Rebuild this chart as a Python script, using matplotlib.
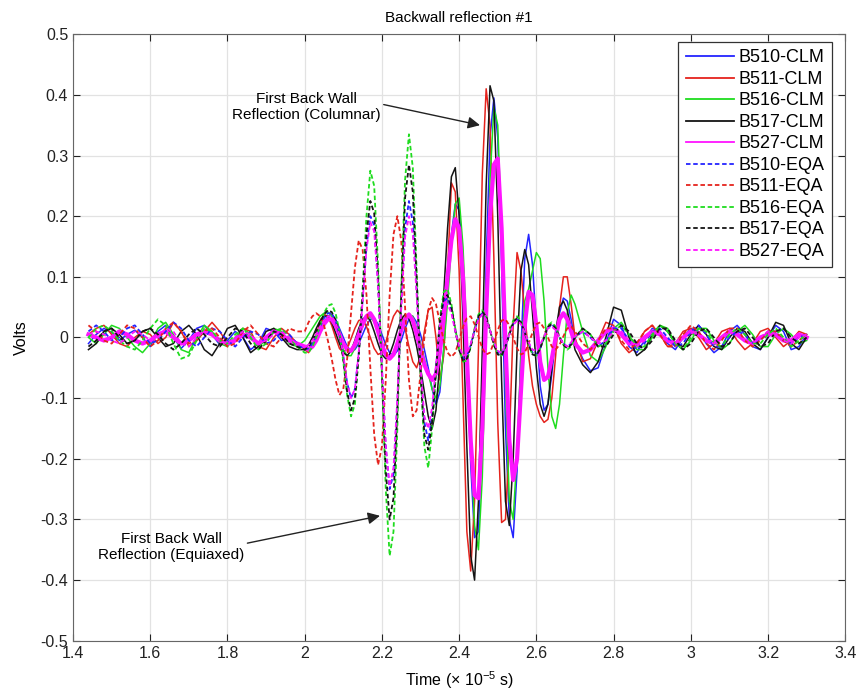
import numpy as np
import matplotlib
matplotlib.use("Agg")
import matplotlib.pyplot as plt
from matplotlib.ticker import FuncFormatter, MultipleLocator

plt.rcParams['font.family'] = ['Liberation Sans Narrow', 'Liberation Sans', 'DejaVu Sans']
plt.rcParams['mathtext.default'] = 'regular'

# sample times (x 1e-5 s): coarse before/after the echo, fine through it
t = np.concatenate([np.arange(1.44, 1.99, 0.02),
                    np.arange(2.00, 2.705, 0.01),
                    np.arange(2.72, 3.305, 0.02)])

# received signals in mV, columnar specimens
b510_clm = [-10, 5, 15, 8, -5, 5, 12, 0, -15, 10, 20, 0, -18, -5, 15, 20, 5, -12, -5, 10, 0, -20, -10, 15, 10, -5, 0, -10,
            -15, -18, -15, -5, 10, 25, 35, 38, 30, 15,
            0, -15, -22, -20, -10, 5, 20, 30, 32, 22,
            5, -12, -25, -30, -22, -5, 15, 30, 35, 25,
            5, -20, -50, -85, -110, -90, -20, 80, 170, 220,
            210, 120, -40, -210, -330, -320, -150, 120, 330, 395,
            330, 120, -150, -300, -330, -220, -20, 130, 170, 120,
            20, -80, -120, -110, -60, 0, 40, 65, 60, 30,
            -5,
            -35, -55, -50, -10, 30, 20, -15, -25, -5, 15, 10, -10, -20, 0, 15, 10, -10, -25, -15, 10,
            20, 5, -15, -20, 0, 20, 10, -20, -15, 5]
b511_clm = [5, 15, 20, 5, -10, -15, 0, 10, 5, -10, 0, 25, 10, -15, -5, 10, 25, 10, -10, -5, 15, 10, -15, -20, 0, 15, 5, -10,
            -20, -25, -15, 5, 25, 38, 35, 20, 0, -18,
            -25, -18, -2, 15, 28, 30, 18, 0, -18, -28,
            -25, -8, 15, 35, 45, 38, 15, -15, -40, -50,
            -30, 10, 45, 50, 0, -70, -30, 110, 255, 240,
            110, -100, -320, -385, -270, -20, 270, 410, 350, 130,
            -140, -305, -300, -170, 20, 140, 110, 40, -30, -80,
            -110, -130, -140, -135, -100, -30, 50, 100, 100, 55,
            0,
            -40, -35, -5, 25, 20, -10, -25, -15, 10, 20, 5, -15, -10, 10, 15, 0, -20, -10, 10, 15,
            -5, -20, -10, 10, 15, 0, -15, -5, 10, 5]
b516_clm = [0, -10, 5, 20, 15, 0, -15, -25, -10, 15, 25, 5, -20, -25, 0, 20, 10, -10, -15, 0, 15, 5, -15, -5, 15, 10, -10, -15,
            -5, 5, 15, 25, 35, 40, 42, 35, 20, 0,
            -20, -30, -30, -18, 0, 18, 30, 35, 25, 8,
            -10, -25, -35, -30, -12, 10, 28, 38, 35, 15,
            -10, -35, -60, -85, -100, -80, -20, 60, 150, 220,
            230, 150, 0, -170, -310, -350, -230, 20, 260, 380,
            350, 170, -80, -270, -300, -190, -30, 60, 80, 110,
            140, 130, 60, -50, -130, -150, -110, -30, 40, 70,
            55,
            10, -30, -40, -15, 15, 25, 5, -20, -20, 0, 20, 15, -10, -20, -5, 15, 15, -5, -20, -10,
            10, 20, 5, -15, -15, 5, 15, 5, -10, -5]
b517_clm = [-20, -10, 10, 15, 5, -10, -5, 10, 15, 0, -15, -10, 10, 20, 5, -20, -30, -10, 15, 20, 0, -25, -15, 10, 15, 0, -15, -20,
            -20, -12, 0, 15, 28, 35, 35, 25, 8, -10,
            -25, -30, -22, -5, 15, 30, 35, 28, 10, -10,
            -28, -35, -28, -10, 12, 30, 38, 32, 12, -15,
            -50, -90, -130, -150, -120, -40, 70, 180, 265, 280,
            200, 30, -180, -360, -400, -270, -20, 250, 415, 390,
            200, -70, -270, -310, -200, -20, 110, 145, 120, 40,
            -50, -110, -130, -110, -50, 10, 50, 60, 45, 15,
            -20,
            -45, -58, -40, 0, 50, 45, 0, -30, -20, 5, 20, 10, -10, -15, 5, 20, 5, -15, -20, 0,
            15, 10, -10, -20, 0, 25, 20, -10, -20, 0]
b527_clm = [5, 0, -5, 0, 10, 5, -5, -10, -5, 5, 10, 0, -10, -5, 5, 10, 5, -5, -10, -5, 5, 0, -10, 0, 10, 5, -5, -10,
            -15, -20, -15, -5, 10, 22, 30, 30, 20, 5,
            -10, -20, -22, -12, 5, 22, 35, 40, 30, 10,
            -12, -28, -35, -28, -10, 12, 30, 38, 28, 5,
            -20, -45, -60, -70, -60, -25, 30, 100, 160, 195,
            180, 100, -30, -170, -260, -265, -150, 40, 200, 285,
            295, 180, -10, -170, -235, -200, -90, 20, 75, 70,
            20, -40, -70, -65, -35, 0, 30, 40, 30, 10,
            -10,
            -25, -20, -5, 10, 15, 5, -10, -10, 0, 10, 5, -5, -10, 0, 10, 5, -5, -10, 0, 10,
            5, -5, -10, 0, 5, 5, -5, -5, 5, 0]

# equiaxed specimens
b510_eqa = [10, 20, 10, -5, 0, 15, 20, 5, -10, -5, 10, 25, 15, -5, -15, 0, 15, 10, -5, -15, 0, 10, 5, -10, -5, 10, 5, -10,
            -20, -18, -10, 2, 18, 32, 40, 40, 28, 5,
            -30, -75, -100, -85, -25, 60, 150, 200, 185, 90,
            -50, -180, -250, -225, -110, 50, 180, 225, 190, 80,
            -50, -140, -170, -130, -50, 25, 60, 65, 45, 12,
            -18, -35, -32, -12, 12, 32, 40, 32, 12, -10,
            -25, -28, -15, 5, 22, 30, 25, 8, -10, -25,
            -28, -18, 0, 15, 22, 15, 0, -10, -15, -10,
            0,
            10, 0, -15, -5, 15, 15, -5, -20, -10, 10, 15, 0, -15, -10, 10, 20, 5, -15, -15, 0,
            10, 5, -10, -5, 10, 10, -5, -10, 0, 5]
b511_eqa = [20, 10, -5, -10, 5, 20, 15, 0, -15, -5, 15, 25, 10, -10, -5, 10, 15, 0, -15, -10, 10, 20, 5, -10, -15, 0, 15, 10,
            10, 25, 35, 40, 35, 20, -5, -35, -70, -95,
            -85, -35, 40, 115, 160, 145, 70, -50, -160, -210,
            -180, -70, 70, 170, 200, 160, 50, -70, -130, -120,
            -60, 0, 45, 65, 55, 25, -5, -25, -32, -25,
            -5, 18, 32, 35, 22, 2, -18, -28, -25, -8,
            12, 28, 30, 20, 0, -18, -28, -25, -10, 8,
            22, 25, 15, 0, -15, -20, -12, 2, 15, 18,
            10,
            -10, -20, -5, 15, 15, -5, -20, -10, 10, 20, 5, -15, -15, 5, 20, 10, -10, -20, -5, 15,
            15, -5, -15, -5, 10, 10, -5, -15, -5, 5]
b516_eqa = [0, 15, 20, 10, -5, -15, -20, -5, 15, 30, 20, -10, -35, -30, -5, 15, 10, -5, -10, 5, 15, 0, -20, -10, 10, 15, 0, -15,
            -25, -25, -15, 0, 20, 40, 52, 55, 40, 10,
            -40, -95, -130, -110, -30, 80, 200, 275, 250, 120,
            -60, -250, -360, -320, -150, 80, 260, 335, 280, 110,
            -60, -180, -215, -150, -60, 30, 75, 80, 55, 15,
            -20, -40, -38, -15, 15, 38, 45, 35, 12, -12,
            -28, -30, -15, 8, 28, 35, 28, 8, -12, -28,
            -30, -18, 2, 20, 25, 18, 2, -12, -20, -15,
            0,
            15, 5, -15, -10, 10, 20, 5, -15, -15, 5, 20, 10, -10, -20, 0, 15, 10, -10, -15, 5,
            15, 5, -10, -10, 5, 15, 0, -15, -5, 5]
b517_eqa = [-15, -5, 10, 15, 0, -10, -5, 10, 15, 5, -10, -20, -10, 5, 15, 5, -10, -15, 0, 15, 10, -10, -20, -5, 10, 5, -10, -15,
            -20, -15, -5, 10, 25, 38, 45, 42, 28, 5,
            -35, -90, -120, -100, -30, 70, 170, 225, 205, 100,
            -60, -220, -300, -265, -120, 70, 230, 285, 240, 95,
            -60, -160, -185, -140, -55, 25, 65, 70, 50, 12,
            -20, -38, -35, -15, 12, 35, 42, 35, 12, -12,
            -28, -30, -15, 5, 25, 32, 25, 8, -12, -28,
            -30, -18, 0, 18, 22, 15, 0, -12, -18, -12,
            0,
            15, 5, -15, -15, 5, 20, 10, -10, -20, -5, 15, 15, -5, -20, -10, 10, 15, 0, -15, -10,
            10, 15, 0, -15, -10, 10, 15, 0, -10, 0]
b527_eqa = [5, 10, 5, -5, -10, 0, 10, 5, -5, 0, 15, 10, -10, -15, 0, 10, 5, -5, -10, 0, 10, 5, -10, -5, 5, 10, 0, -10,
            -15, -12, -5, 5, 18, 28, 35, 35, 25, 5,
            -28, -75, -100, -85, -25, 60, 145, 190, 175, 85,
            -50, -180, -245, -215, -100, 50, 165, 200, 170, 70,
            -50, -130, -150, -115, -45, 20, 50, 55, 40, 10,
            -15, -30, -28, -10, 12, 30, 38, 30, 12, -8,
            -22, -25, -12, 5, 20, 28, 22, 8, -8, -20,
            -22, -12, 2, 15, 18, 12, 0, -10, -15, -8,
            2,
            10, 0, -10, -5, 10, 10, -5, -15, -5, 10, 10, -5, -10, 0, 10, 5, -5, -10, 0, 10,
            5, -5, -10, 0, 10, 5, -5, -10, 0, 5]

labels = ['B510-CLM', 'B511-CLM', 'B516-CLM', 'B517-CLM', 'B527-CLM',
          'B510-EQA', 'B511-EQA', 'B516-EQA', 'B517-EQA', 'B527-EQA']
series = [b510_clm, b511_clm, b516_clm, b517_clm, b527_clm,
          b510_eqa, b511_eqa, b516_eqa, b517_eqa, b527_eqa]
colors = ['#2424ff', '#e5231d', '#1fdc1f', '#141414', '#ff14ff'] * 2

fig = plt.figure(figsize=(8.59, 6.98), dpi=100)
ax = fig.add_axes([0.085, 0.082, 0.899, 0.869])

for i, (y, lab) in enumerate(zip(series, labels)):
    volts = np.array(y) / 1000.0
    if i < 5:
        lw = 3.0 if i == 4 else 1.1
        ax.plot(t, volts, color=colors[i], lw=lw, ls='-', label=lab)
    else:
        ax.plot(t, volts, color=colors[i], lw=1.3, ls=(0, (2.5, 1.5)), label=lab)

ax.set_xlim(1.4, 3.4)
ax.set_ylim(-0.5, 0.5)
ax.xaxis.set_major_locator(MultipleLocator(0.2))
ax.yaxis.set_major_locator(MultipleLocator(0.1))
fmt = FuncFormatter(lambda v, p: '%g' % round(v, 2))
ax.xaxis.set_major_formatter(fmt)
ax.yaxis.set_major_formatter(fmt)
ax.tick_params(direction='in', length=5, top=True, right=True, labelsize=11.5, colors='#222222')
ax.grid(True, color='#e2e2e2', lw=0.9)
ax.set_axisbelow(True)
for s in ax.spines.values():
    s.set_color('#666666')

ax.set_title('Backwall reflection #1', fontsize=11, pad=9)
ax.set_xlabel('Time (× 10$^{-5}$ s)', fontsize=11.5, labelpad=6)
ax.set_ylabel('Volts', fontsize=11.5, labelpad=8)

leg = ax.legend(loc='upper right', bbox_to_anchor=(0.983, 0.987), borderaxespad=0,
                handlelength=2.7, handletextpad=0.25, labelspacing=0.25, borderpad=0.4,
                fancybox=False, edgecolor='#333333', framealpha=1,
                prop={'family': ['Liberation Sans', 'DejaVu Sans'], 'size': 13})
leg.get_frame().set_linewidth(0.9)
for ln in leg.get_lines():
    ln.set_linewidth(1.3)

ax.annotate('First Back Wall\nReflection (Columnar)', xy=(2.454, 0.35), xytext=(2.005, 0.38),
            ha='center', va='center', fontsize=11,
            arrowprops=dict(arrowstyle='-|>', color='#222222', lw=1.0, mutation_scale=18,
                            shrinkA=0, shrinkB=0, relpos=(1.0, 0.6)))
ax.annotate('First Back Wall\nReflection (Equiaxed)', xy=(2.195, -0.294), xytext=(1.655, -0.345),
            ha='center', va='center', fontsize=11,
            arrowprops=dict(arrowstyle='-|>', color='#222222', lw=1.0, mutation_scale=18,
                            shrinkA=0, shrinkB=0, relpos=(1.0, 0.6)))

fig.savefig('out.png', dpi=100)
